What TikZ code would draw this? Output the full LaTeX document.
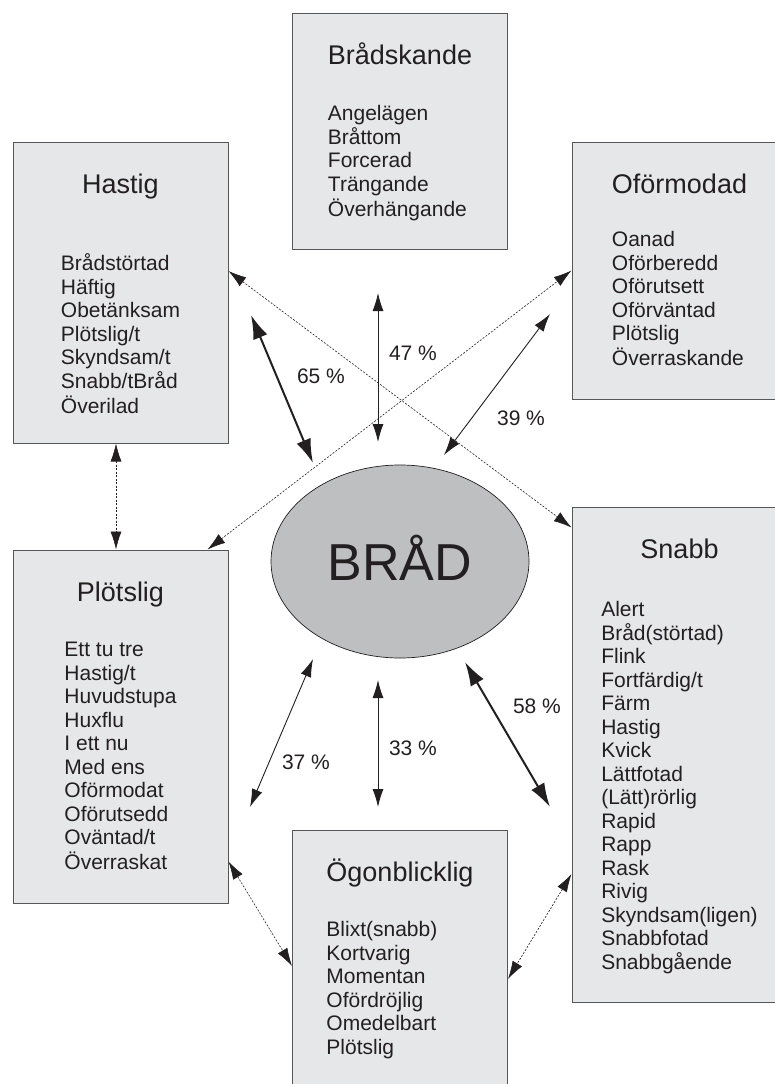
\documentclass[tikz,border=0pt]{standalone}
\usepackage{fontspec}
\setmainfont{Liberation Sans}
\usetikzlibrary{arrows.meta,positioning,shapes.geometric}

\definecolor{ink}{RGB}{35,31,32}
\definecolor{boxgray}{RGB}{230,231,232}
\definecolor{framegray}{RGB}{85,86,88}
\definecolor{hubgray}{RGB}{190,191,193}

\newcommand{\titlefont}{\fontsize{27}{30}\selectfont}
\newcommand{\wordlist}[3]{%
  \begin{tabular}[t]{@{}l@{}}\multicolumn{1}{@{}c@{}}{\titlefont #1}\\[#2]#3\end{tabular}}

\begin{document}
\begin{tikzpicture}[x=1pt,y=-1pt,on grid,
    wbox/.style={rectangle,draw=framegray,fill=boxgray,line width=1pt,minimum width=215pt,inner sep=0pt},
    words/.style={text=ink,font=\fontsize{21}{23.5}\selectfont,inner sep=0pt},
    pct/.style={text=ink,font=\fontsize{21}{23.5}\selectfont,inner sep=0pt},
    thinlink/.style={{Latex[length=18pt,width=11pt]}-{Latex[length=18pt,width=11pt]},draw=ink,line width=0.9pt},
    thicklink/.style={{Latex[length=24pt,width=15pt]}-{Latex[length=24pt,width=15pt]},draw=ink,line width=2pt},
    dotlink/.style={{Latex[length=18pt,width=11pt]}-{Latex[length=18pt,width=11pt]},draw=ink,line width=0.6pt,dash pattern=on 2pt off 1.5pt}]
                    \useasboundingbox (0,0) rectangle (775,1084);
                    \clip (0,0) rectangle (775,1084);
                    % hub
                    \node[ellipse,draw=ink,fill=hubgray,line width=0.7pt,minimum width=258pt,minimum height=193pt,inner sep=0pt,
                          text=ink,font=\fontsize{52}{60}\selectfont,text height=37pt,text depth=0pt] (brad) at (400,561.5) {BRÅD};
                    % boxes round the hub
                    \node[wbox,minimum height=236pt] (bra)  [above=430.5pt of brad] {};
                    \node[wbox,minimum height=301pt] (hast) [above left=269pt and 279.5pt of brad] {};
                    \node[wbox,minimum height=257pt] (ofor) [above right=291pt and 279.5pt of brad] {};
                    \node[wbox,minimum height=353pt] (plot) [below left=165pt and 279.5pt of brad] {};
                    \node[wbox,minimum height=495pt] (snab) [below right=193pt and 279.5pt of brad] {};
                    \node[wbox,minimum height=262pt] (ogon) [below=399.5pt of brad] {};
                    % word lists
                    \node[words,below=52pt of bra.north,anchor=base] (bra-w)
                        {\wordlist{Brådskande}{32.5pt}{Angelägen\\Bråttom\\Forcerad\\Trängande\\Överhängande}};
                    \node[words,below=52pt of hast.north,anchor=base] (hast-w)
                        {\wordlist{Hastig}{53.5pt}{Brådstörtad\\Häftig\\Obetänksam\\Plötslig/t\\Skyndsam/t\\Snabb/tBråd\\Överilad}};
                    \node[words,below=52pt of ofor.north,anchor=base] (ofor-w)
                        {\wordlist{Oförmodad}{29.5pt}{Oanad\\Oförberedd\\Oförutsett\\Oförväntad\\Plötslig\\Överraskande}};
                    \node[words,below=52pt of plot.north,anchor=base] (plot-w)
                        {\wordlist{Plötslig}{31.5pt}{Ett tu tre\\Hastig/t\\Huvudstupa\\Huxflu\\I ett nu\\Med ens\\Oförmodat\\Oförutsedd\\Oväntad/t\\Överraskat}};
                    \node[words,below=52pt of snab.north,anchor=base] (snab-w)
                        {\wordlist{Snabb}{34.5pt}{Alert\\Bråd(störtad)\\Flink\\Fortfärdig/t\\Färm\\Hastig\\Kvick\\Lättfotad\\(Lätt)rörlig\\Rapid\\Rapp\\Rask\\Rivig\\Skyndsam(ligen)\\Snabbfotad\\Snabbgående}};
                    \node[words,below=52pt of ogon.north,anchor=base] (ogon-w)
                        {\wordlist{Ögonblicklig}{31.5pt}{Blixt(snabb)\\Kortvarig\\Momentan\\Ofördröjlig\\Omedelbart\\Plötslig}};
                    % free ends of the hub arrows
                    \coordinate (a65) at (251,315);  \coordinate (b65) at (313,463);
                    \coordinate (a47) at (378,293);  \coordinate (b47) at (378,442);
                    \coordinate (a39) at (550,314);  \coordinate (b39) at (444,455);
                    \coordinate (a37) at (313,659);  \coordinate (b37) at (250,807);
                    \coordinate (a33) at (378,680);  \coordinate (b33) at (378,807);
                    \coordinate (a58) at (465,662);  \coordinate (b58) at (550,807);
                    % hub arrows
                    \draw[thicklink] (a65) -- (b65);
                    \draw[thinlink]  (a47) -- (b47);
                    \draw[thinlink]  (a39) -- (b39);
                    \draw[thinlink]  (a37) -- (b37);
                    \draw[thinlink]  (a33) -- (b33);
                    \draw[thicklink] (a58) -- (b58);
                    \node[pct] (p65) at (321,376) {65 \%};
                    \node[pct] (p47) at (413,353) {47 \%};
                    \node[pct] (p39) at (521,418) {39 \%};
                    \node[pct] (p37) at (306,762) {37 \%};
                    \node[pct] (p33) at (413,748) {33 \%};
                    \node[pct] (p58) at (537,706) {58 \%};
                    % dotted links between boxes
                    \draw[dotlink] ([yshift=21.5pt]hast.east) -- ([yshift=-21pt]snab.north west);
                    \draw[dotlink] ([xshift=-21pt]plot.north east) -- (ofor.west);
                    \draw[dotlink] ([xshift=-4.5pt]hast.south) -- ([xshift=-4.5pt]plot.north);
                    \draw[dotlink] ([yshift=42pt]plot.south east) -- ([yshift=-5pt]ogon.west);
                    \draw[dotlink] ([yshift=-119.5pt]snab.west) -- ([yshift=-18pt]ogon.east);
                \end{tikzpicture}
\end{document}
